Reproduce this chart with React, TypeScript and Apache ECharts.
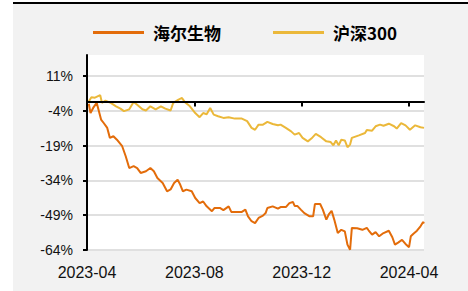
import React, { useEffect, useRef } from 'react';
import * as echarts from 'echarts';

const seriesNames = ['海尔生物', '沪深300'];
const seriesColors = ['#e36c0a', '#ebb83a'];

// days since 2023-04-01 and cumulative return (%)
const haierDays = [2, 4, 7, 11, 16, 19, 23, 26, 30, 34, 40, 44, 48, 53, 57, 61, 67, 72, 76, 80, 86, 91, 95, 99, 103, 106, 109, 113, 119, 123, 128, 132, 136, 142, 145, 151, 155, 161, 164, 170, 176, 180, 183, 187, 191, 195, 200, 203, 205, 211, 217, 220, 226, 230, 234, 236, 239, 243, 247, 253, 257, 259, 265, 268, 272, 275, 278, 281, 285, 289, 293, 296, 299, 301, 307, 313, 318, 320, 324, 328, 332, 337, 343, 347, 350, 354, 358, 362, 366, 368, 371, 375, 379, 382, 383];
const haierValues = [-1.0, -5.0, -2.8, -0.6, -7.8, -9.3, -11.4, -15.7, -15.0, -16.5, -19.3, -23.6, -28.7, -27.9, -28.7, -30.8, -30.1, -28.7, -30.1, -33.0, -35.1, -38.7, -37.9, -35.1, -33.7, -35.9, -38.7, -38.0, -38.7, -41.6, -43.8, -43.1, -45.2, -47.3, -45.9, -45.9, -46.8, -45.2, -47.6, -47.6, -47.6, -46.6, -49.5, -51.6, -52.4, -50.2, -49.2, -48.1, -45.9, -45.2, -46.2, -45.5, -45.5, -43.8, -43.3, -45.0, -45.0, -46.6, -48.1, -49.5, -49.5, -44.2, -44.2, -46.6, -50.9, -48.5, -47.1, -50.9, -56.7, -55.3, -56.0, -61.7, -63.9, -54.5, -54.6, -55.3, -54.5, -55.5, -57.4, -56.3, -58.1, -56.7, -55.7, -58.5, -61.7, -60.7, -59.6, -61.4, -62.8, -58.1, -57.0, -55.7, -53.8, -51.9, -52.6];

const hs300Days = [2, 5, 9, 15, 17, 21, 27, 33, 38, 42, 48, 53, 57, 63, 67, 72, 78, 84, 89, 95, 98, 104, 108, 111, 117, 123, 128, 132, 136, 140, 144, 149, 155, 161, 168, 176, 182, 187, 191, 195, 200, 205, 211, 217, 220, 226, 232, 236, 241, 245, 251, 255, 260, 266, 272, 277, 280, 283, 286, 289, 293, 296, 299, 301, 309, 316, 318, 324, 328, 333, 337, 343, 349, 352, 357, 362, 367, 373, 379, 383];
const hs300Values = [0.0, 1.8, 1.6, 2.7, -0.6, 0.3, -0.6, -2.1, -3.1, -4.2, -3.4, -0.2, -1.4, -3.4, -3.9, -2.1, -3.4, -2.1, -3.1, -3.9, -0.6, 0.8, 1.5, -0.2, -2.1, -5.0, -6.8, -5.0, -5.5, -2.8, -5.7, -6.4, -7.1, -6.8, -7.4, -7.4, -8.5, -11.4, -12.2, -10.0, -10.0, -8.8, -9.7, -10.3, -10.0, -11.4, -12.9, -14.3, -13.6, -15.7, -17.2, -16.0, -14.0, -15.4, -17.2, -17.5, -18.9, -16.8, -18.9, -16.5, -16.8, -19.7, -18.6, -15.7, -14.6, -13.6, -12.3, -12.6, -10.7, -10.0, -10.5, -9.6, -10.7, -11.7, -9.3, -10.3, -12.2, -10.3, -11.1, -11.4];

const startDate = '2023-04-01';
const endDate = '2024-04-18';
const xTickDates = ['2023-04-01', '2023-08-01', '2023-12-01', '2024-04-01'];
const yTickValues = [-64, -49, -34, -19, -4, 11];

const DAY = 86400000;
const toTs = (s: string) => new Date(s + 'T00:00:00Z').getTime();

export default function App() {
  const ref = useRef<HTMLDivElement>(null);

  useEffect(() => {
    if (!ref.current) return;
    const chart = echarts.init(ref.current, undefined, { renderer: 'svg' });
    const t0 = toTs(startDate);
    const tEnd = toTs(endDate);
    const xTicks = xTickDates.map(toTs);
    const build = (days: number[], vals: number[]) => days.map((d, i) => [t0 + d * DAY, vals[i]]);
    const fmtX = (v: number) => {
      const d = new Date(v);
      return `${d.getUTCFullYear()}-${String(d.getUTCMonth() + 1).padStart(2, '0')}`;
    };
    const numFont = 'Liberation Sans, Arial, sans-serif';

    chart.setOption({
      animation: false,
      backgroundColor: 'transparent',
      legend: {
        data: seriesNames,
        left: 88,
        top: 19,
        icon: 'rect',
        itemWidth: 51,
        itemHeight: 3,
        itemGap: 52,
        textStyle: {
          fontSize: 17,
          fontWeight: 'bold',
          color: '#000',
          fontFamily: 'Noto Sans CJK SC',
          padding: [0, 0, 0, 4],
        },
      },
      grid: {
        left: 87,
        right: 44,
        top: 55,
        bottom: 41,
        show: true,
        backgroundColor: '#ffffff',
        borderWidth: 0,
      },
      xAxis: [
        {
          type: 'value',
          min: t0,
          max: tEnd,
          position: 'bottom',
          axisLine: { show: false, onZero: false },
          axisTick: { show: false },
          splitLine: { show: false },
          axisLabel: {
            customValues: xTicks,
            formatter: fmtX,
            fontSize: 16,
            color: '#111',
            fontFamily: numFont,
            margin: 14,
          },
        },
        {
          type: 'value',
          min: t0,
          max: tEnd,
          position: 'bottom',
          z: 10,
          axisLine: { show: true, onZero: true, lineStyle: { color: '#000', width: 2 } },
          axisTick: { show: true, customValues: xTicks, length: 5, lineStyle: { color: '#000', width: 2 } },
          axisLabel: { show: false },
          splitLine: { show: false },
        },
      ],
      yAxis: {
        type: 'value',
        min: -64,
        max: 20,
        interval: 15,
        axisLine: { show: true, onZero: false, lineStyle: { color: '#000', width: 2 } },
        axisTick: { show: true, customValues: yTickValues, length: 4, lineStyle: { color: '#000', width: 2 } },
        axisLabel: {
          customValues: yTickValues,
          formatter: (v: number) => `${v}%`,
          fontSize: 14,
          color: '#111',
          fontFamily: numFont,
          margin: 14,
        },
        splitLine: { show: true, lineStyle: { color: '#e0e0e0', width: 2 } },
      },
      series: [
        {
          name: seriesNames[0],
          type: 'line',
          xAxisIndex: 0,
          data: build(haierDays, haierValues),
          showSymbol: false,
          symbol: 'none',
          lineStyle: { color: seriesColors[0], width: 2 },
          itemStyle: { color: seriesColors[0] },
          z: 3,
        },
        {
          name: seriesNames[1],
          type: 'line',
          xAxisIndex: 0,
          data: build(hs300Days, hs300Values),
          showSymbol: false,
          symbol: 'none',
          lineStyle: { color: seriesColors[1], width: 2 },
          itemStyle: { color: seriesColors[1] },
          z: 2,
        },
      ],
    });
    return () => chart.dispose();
  }, []);

  return (
    <div style={{ position: 'fixed', left: 0, top: 0, width: 468, height: 291, background: '#ffffff' }}>
      <div style={{ position: 'absolute', left: 13, top: 2, width: 455, height: 2, background: '#000' }} />
      <div style={{ position: 'absolute', left: 13, top: 4, width: 455, height: 287, background: '#f2f2f2' }} />
      <div ref={ref} style={{ position: 'absolute', left: 0, top: 0, width: 468, height: 291 }} />
    </div>
  );
}
